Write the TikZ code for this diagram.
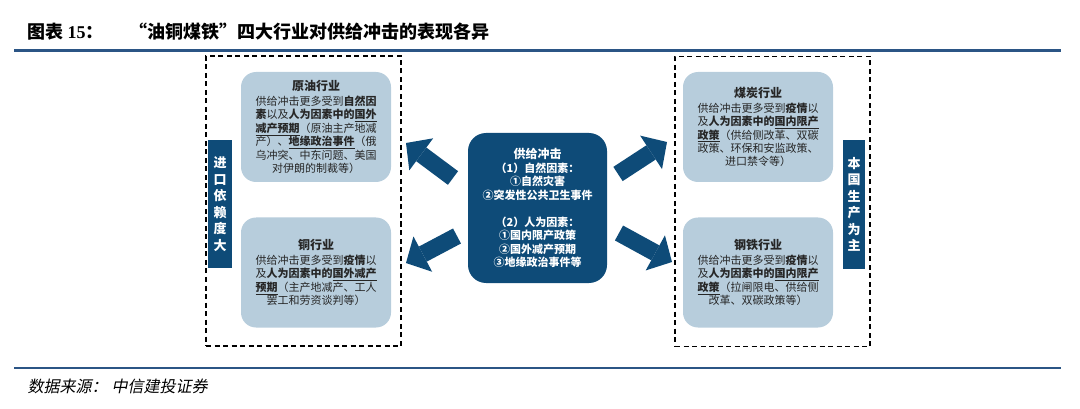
\documentclass[tikz,border=0pt]{standalone}
\usepackage{fontspec}
\setmainfont{Noto Sans CJK SC}
\newfontfamily\srcfont[FakeSlant=0.2]{Noto Sans CJK SC}
\newfontfamily\numfont{Liberation Serif}
\usetikzlibrary{arrows.meta,positioning}
\definecolor{navy}{HTML}{0E4B78}
\definecolor{pale}{HTML}{B7CDDC}
\definecolor{rulec}{HTML}{2B5585}
\newcommand{\hl}[1]{\textbf{#1}}
\newcommand{\hlu}[1]{\underline{\textbf{#1}}}

\begin{document}
\begin{tikzpicture}[
        x=1pt, y=-1pt,
        indbox/.style={rectangle, rounded corners=15pt, fill=pale, minimum width=150pt, minimum height=110pt, align=center, text=black!85, font=\fontsize{11}{13.4}\selectfont},
        hub/.style={rectangle, rounded corners=18pt, fill=navy, minimum width=139pt, minimum height=150pt, align=center, text=white, font=\fontsize{11}{13.5}\selectfont\bfseries},
        group/.style={rectangle, draw=black, line width=1.3pt, dash pattern=on 5pt off 3.5pt, minimum width=195pt, minimum height=290pt},
        tag/.style={rectangle, fill=navy, minimum width=24pt, minimum height=128pt, align=center, text=white, font=\fontsize{13}{16.5}\selectfont\bfseries},
        bigarrow/.style={draw=navy, line width=17pt, -{Triangle[length=19pt, width=40pt, line width=0pt]}},
        rulebar/.style={draw=rulec}
    ]
    \useasboundingbox (0,0) rectangle (1080,409);

    % title and rules
    \node[anchor=west, font=\fontsize{18}{20}\selectfont\bfseries] (title) at (24,32)
        {图表 {\numfont 15}：\hspace{26pt}“油铜煤铁”四大行业对供给冲击的表现各异};
    \draw[rulebar, line width=3pt] (14,50.5) -- (1061,50.5);
    \draw[rulebar, line width=2pt] (14,368) -- (1061,368);
    \node[anchor=west, font=\fontsize{16}{18}\selectfont\srcfont] (source) at (24,386)
        {数据来源：\hspace{4pt}中信建投证券};

    % dashed groups
    \node[group] (imp) at (303.5,201) {};
    \node[group] (dom) at (772.5,201.5) {};

    % side tags
    \node[tag] (imptag) at (220,204) {进\\口\\依\\赖\\度\\大};
    \node[tag, minimum width=22pt] (domtag) at (854,204.5) {本\\国\\生\\产\\为\\主};

    % industries
    \node[indbox] (oil) at (316,127) {\textbf{\fontsize{12}{14}\selectfont 原油行业}\\[1.5pt]
        供给冲击更多受到\hl{自然因}\\
        \hl{素}以及\hl{人为因素中的}\hlu{国外}\\
        \hlu{减产预期}（原油主产地减\\
        产）、\hlu{地缘政治事件}（俄\\
        乌冲突、中东问题、美国\\
        对伊朗的制裁等）};
    \node[indbox] (copper) at (316,272.5) {\textbf{\fontsize{12}{14}\selectfont 铜行业}\\[1.5pt]
        供给冲击更多受到\hl{疫情}以\\
        及\hl{人为因素中的}\hlu{国外减产}\\
        \hlu{预期}（主产地减产、工人\\
        罢工和劳资谈判等）};
    \node[indbox] (coal) at (758,127) {\textbf{\fontsize{12}{14}\selectfont 煤炭行业}\\[1.5pt]
        供给冲击更多受到\hl{疫情}以\\
        及\hl{人为因素中的}\hlu{国内限产}\\
        \hlu{政策}（供给侧改革、双碳\\
        政策、环保和安监政策、\\
        进口禁令等）};
    \node[indbox] (steel) at (758,272.5) {\textbf{\fontsize{12}{14}\selectfont 钢铁行业}\\[1.5pt]
        供给冲击更多受到\hl{疫情}以\\
        及\hl{人为因素中的}\hlu{国内限产}\\
        \hlu{政策}（拉闸限电、供给侧\\
        改革、双碳政策等）};

    % supply shock hub
    \node[hub] (shock) at (537.5,208) {{\fontsize{12}{14}\selectfont 供给冲击}\\
        （1）自然因素：\\
        ①自然灾害\\
        ②突发性公共卫生事件\\[13.5pt]
        （2）人为因素：\\
        ①国内限产政策\\
        ②国外减产预期\\
        ③地缘政治事件等};

    % arrows
    \coordinate (ultail) at (453,178);
    \coordinate (ultip) at (406,143);
    \coordinate (lltail) at (457,236);
    \coordinate (lltip) at (406,263);
    \coordinate (urtail) at (618,174);
    \coordinate (urtip) at (667,142);
    \coordinate (lrtail) at (619,233);
    \coordinate (lrtip) at (672,262);
    \draw[bigarrow] (ultail) -- (ultip);
    \draw[bigarrow] (lltail) -- (lltip);
    \draw[bigarrow] (urtail) -- (urtip);
    \draw[bigarrow] (lrtail) -- (lrtip);

\end{tikzpicture}
\end{document}
